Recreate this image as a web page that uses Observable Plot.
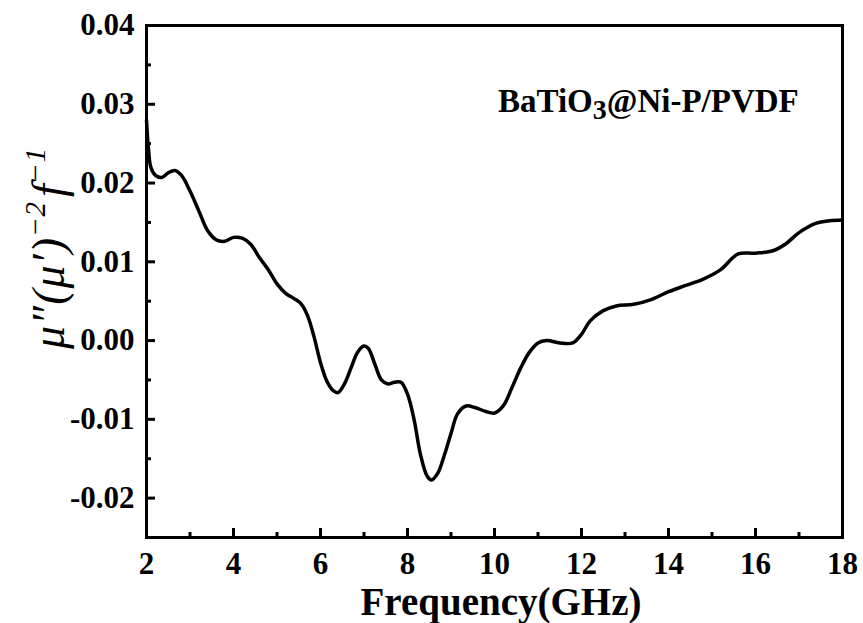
<!DOCTYPE html>
<html>
<head>
<meta charset="utf-8">
<script src="https://cdn.jsdelivr.net/npm/d3@7"></script>
<script src="https://cdn.jsdelivr.net/npm/@observablehq/plot@0.6"></script>
<style>
  html, body { margin: 0; padding: 0; background: #fff; }
  #chart { width: 863px; height: 623px; }
</style>
</head>
<body>
<div id="chart"></div>
<script>
// Frequency (GHz)
const freq = [2.00, 2.05, 2.10, 2.20, 2.35, 2.50, 2.65, 2.80, 3.00, 3.20, 3.40, 3.60, 3.80, 4.00, 4.20, 4.40, 4.60, 4.80, 5.00, 5.20, 5.40, 5.55, 5.70, 5.85, 6.00, 6.15, 6.30, 6.40, 6.55, 6.70, 6.85, 7.00, 7.10, 7.25, 7.40, 7.55, 7.70, 7.85, 8.00, 8.15, 8.30, 8.45, 8.55, 8.70, 8.85, 9.00, 9.15, 9.35, 9.55, 9.80, 10.00, 10.20, 10.40, 10.60, 10.80, 11.00, 11.20, 11.50, 11.80, 12.00, 12.20, 12.50, 12.80, 13.20, 13.60, 14.00, 14.40, 14.80, 15.20, 15.60, 16.00, 16.40, 16.70, 17.00, 17.40, 17.70, 18.00];
// mu''(mu')^-2 f^-1
const value = [0.0280, 0.0240, 0.0220, 0.0210, 0.0207, 0.0213, 0.0216, 0.0210, 0.0190, 0.0165, 0.0140, 0.0128, 0.0126, 0.0131, 0.0130, 0.0122, 0.0105, 0.0090, 0.0072, 0.0060, 0.0053, 0.0047, 0.0032, 0.0005, -0.0028, -0.0052, -0.0064, -0.0066, -0.0055, -0.0035, -0.0015, -0.0007, -0.0010, -0.0030, -0.0050, -0.0055, -0.0053, -0.0053, -0.0068, -0.0100, -0.0145, -0.0172, -0.0177, -0.0168, -0.0145, -0.0118, -0.0093, -0.0083, -0.0085, -0.0090, -0.0092, -0.0083, -0.0060, -0.0035, -0.0015, -0.0003, 0.0000, -0.0003, -0.0003, 0.0008, 0.0025, 0.0038, 0.0044, 0.0046, 0.0052, 0.0062, 0.0070, 0.0078, 0.0090, 0.0110, 0.0111, 0.0114, 0.0123, 0.0137, 0.0149, 0.0152, 0.0153];

const xMajor = [2, 4, 6, 8, 10, 12, 14, 16, 18];
const xMinor = [3, 5, 7, 9, 11, 13, 15, 17];
const yMajor = [-0.02, -0.01, 0.00, 0.01, 0.02, 0.03, 0.04];
const yMinor = [-0.015, -0.005, 0.005, 0.015, 0.025, 0.035];

const xLabel = "Frequency(GHz)";
const annotation = ["BaTiO", "3", "@Ni-P/PVDF"];

const data = freq.map((f, i) => ({f, v: value[i]}));

const W = 863, H = 623;
const mL = 146, mR = 21, mT = 25, mB = 86;
const pw = W - mL - mR, ph = H - mT - mB;

const serif = "'Liberation Serif', 'Times New Roman', serif";

const chart = Plot.plot({
  width: W, height: H,
  marginLeft: mL, marginRight: mR, marginTop: mT, marginBottom: mB,
  style: {fontFamily: serif, fontWeight: "bold", color: "black", background: "white", overflow: "visible"},
  x: {domain: [2, 18]},
  y: {domain: [-0.025, 0.04]},
  marks: [
    Plot.axisX({ticks: xMajor, tickSize: 0, tickPadding: 14, fontSize: 31, tickFormat: d => String(d), label: null}),
    Plot.axisY({ticks: yMajor, tickSize: 0, tickPadding: 12, fontSize: 31, tickFormat: d => d.toFixed(2), label: null}),
    Plot.tickX(xMajor, {x: d => d, insetTop: ph - 9, stroke: "black", strokeWidth: 3}),
    Plot.tickX(xMinor, {x: d => d, insetTop: ph - 5, stroke: "black", strokeWidth: 3}),
    Plot.tickY(yMajor, {y: d => d, insetRight: pw - 9, stroke: "black", strokeWidth: 3}),
    Plot.tickY(yMinor, {y: d => d, insetRight: pw - 5, stroke: "black", strokeWidth: 3}),
    Plot.line(data, {x: "f", y: "v", curve: "catmull-rom", stroke: "black", strokeWidth: 3.5, strokeLinejoin: "round"}),
    Plot.frame({stroke: "black", strokeWidth: 3})
  ]
});

const svg = d3.select(chart);

// x-axis title
svg.append("text")
  .attr("x", 501)
  .attr("y", 615)
  .attr("text-anchor", "middle")
  .attr("font-family", serif)
  .attr("font-weight", "bold")
  .attr("font-size", 39)
  .text(xLabel);

// y-axis title with superscripts
const yt = svg.append("text")
  .attr("transform", `translate(64, 248) rotate(-90)`)
  .attr("text-anchor", "middle")
  .attr("font-family", serif)
  .attr("font-style", "italic")
  .attr("font-weight", "normal")
  .attr("font-size", 46)
  .attr("letter-spacing", 1);
yt.append("tspan").text("\u03BC\u2033(\u03BC\u2032)");
yt.append("tspan").attr("dy", -19).attr("font-size", 29).text("\u22122");
yt.append("tspan").attr("dy", 19).attr("dx", 4).text("f");
yt.append("tspan").attr("dy", -19).attr("font-size", 29).text("\u22121");

// annotation
const an = svg.append("text")
  .attr("x", 498)
  .attr("y", 112)
  .attr("text-anchor", "start")
  .attr("font-family", serif)
  .attr("font-weight", "bold")
  .attr("font-size", 33);
an.append("tspan").text(annotation[0]);
an.append("tspan").attr("dy", 7).attr("font-size", 28).text(annotation[1]);
an.append("tspan").attr("dy", -7).text(annotation[2]);

document.getElementById("chart").appendChild(chart);
</script>
</body>
</html>
